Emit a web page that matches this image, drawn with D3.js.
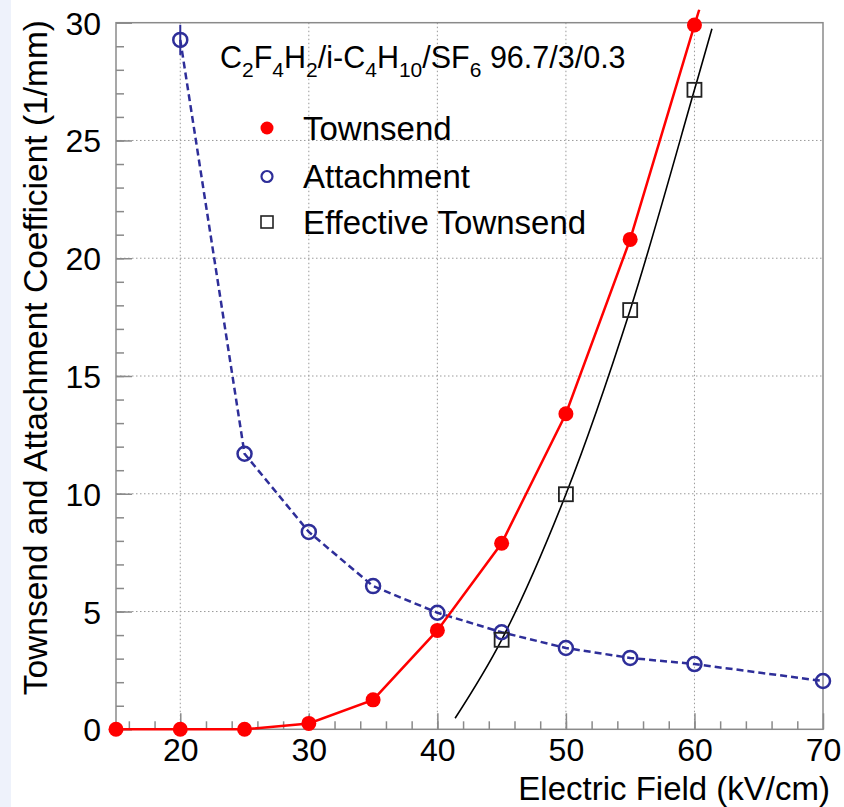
<!DOCTYPE html>
<html>
<head>
<meta charset="utf-8">
<script src="https://cdn.jsdelivr.net/npm/d3@7"></script>
<style>
  html, body { margin: 0; padding: 0; background: #ffffff; }
  svg { display: block; }
  text { font-family: "Liberation Sans", Arial, Helvetica, sans-serif; fill: #000; }
</style>
</head>
<body>
<svg id="chart" width="844" height="807"></svg>
<script>
// ---------------- data ----------------
const fieldTownsend = [15, 20, 25, 30, 35, 40, 45, 50, 55, 60];
const townsend      = [0, 0, 0, 0.25, 1.25, 4.2, 7.9, 13.4, 20.8, 29.9];
const townsendLineEnd = [60.37, 30.55];          // line continues slightly past the last point

const fieldAttach   = [20, 25, 30, 35, 40, 45, 50, 55, 60, 70];
const attachment    = [29.27, 11.7, 8.38, 6.08, 4.95, 4.12, 3.45, 3.03, 2.77, 2.05];
const attachErr     = [0.64, 0, 0, 0, 0, 0, 0, 0, 0, 0];

const fieldEff      = [45, 50, 55, 60];
const effective     = [3.8, 9.98, 17.8, 27.15];
const effFitX       = [41.38, 45, 50, 55, 60, 61.36];
const effFitY       = [0.47, 3.8, 9.98, 17.8, 27.15, 29.74];

const xTicks = [20, 30, 40, 50, 60, 70];
const yTicks = [0, 5, 10, 15, 20, 25, 30];
const xGrid  = [20, 30, 40, 50, 60];
const yGrid  = [5, 10, 15, 20, 25];
const xMinor = d3.range(16, 70, 2);
const yMinor = d3.range(1, 30, 1);

const legendLabels = ["Townsend", "Attachment", "Effective Townsend"];
const xTitle = "Electric Field (kV/cm)";
const yTitle = "Townsend and Attachment Coefficient (1/mm)";

// ---------------- layout ----------------
const svg = d3.select("#chart");
const L = 116, R = 823, T = 22.7, B = 729.3;
const x = d3.scaleLinear().domain([15, 70]).range([L, R]);
const y = d3.scaleLinear().domain([0, 30]).range([B, T]);

const RED = "#ff0000", BLUE = "#2e2e99", BLACK = "#000000", AXIS = "#8a8a8a";

// left light strip
svg.append("rect").attr("x", 0).attr("y", 0).attr("width", 11).attr("height", 807).attr("fill", "#eef2fb");

// grid
const grid = svg.append("g").attr("stroke", "#9a9a9a").attr("stroke-width", 1).attr("stroke-dasharray", "1.5,2.5");
grid.selectAll(".gx").data(xGrid).join("line")
  .attr("x1", d => x(d)).attr("x2", d => x(d)).attr("y1", T).attr("y2", B);
grid.selectAll(".gy").data(yGrid).join("line")
  .attr("x1", L).attr("x2", R).attr("y1", d => y(d)).attr("y2", d => y(d));

// frame
svg.append("rect").attr("x", L).attr("y", T).attr("width", R - L).attr("height", B - T)
  .attr("fill", "none").attr("stroke", AXIS).attr("stroke-width", 1.5);

// axes with inward ticks
const yAxisG = svg.append("g").attr("transform", `translate(${L},0)`);
yAxisG.call(d3.axisLeft(y).tickValues(yMinor).tickSize(-8).tickFormat(""));
yAxisG.call(g => g.select(".domain").remove());
const yMajG = svg.append("g").attr("transform", `translate(${L},0)`);
yMajG.call(d3.axisLeft(y).tickValues(yTicks).tickSize(-16).tickFormat(d3.format("d")));
yMajG.select(".domain").remove();
yMajG.selectAll("text").attr("font-size", 32).attr("x", -15).attr("dy", "0.36em")
  .style("font-family", "'Liberation Sans', Arial, sans-serif");

const xAxisG = svg.append("g").attr("transform", `translate(0,${B})`);
xAxisG.call(d3.axisBottom(x).tickValues(xMinor).tickSize(-8).tickFormat(""));
xAxisG.select(".domain").remove();
const xMajG = svg.append("g").attr("transform", `translate(0,${B})`);
xMajG.call(d3.axisBottom(x).tickValues(xTicks).tickSize(-16).tickFormat(d3.format("d")));
xMajG.select(".domain").remove();
xMajG.selectAll("text").attr("font-size", 32).attr("y", 9).attr("dy", "0.71em")
  .style("font-family", "'Liberation Sans', Arial, sans-serif");
svg.selectAll(".tick line").attr("stroke", AXIS).attr("stroke-width", 1.5);

// axis titles
svg.append("text").attr("x", 830).attr("y", 800).attr("text-anchor", "end")
  .attr("font-size", 33).text(xTitle);
svg.append("text").attr("transform", "translate(47,20) rotate(-90)").attr("text-anchor", "end")
  .attr("font-size", 33.5).text(yTitle);

// ---------------- series ----------------
const lineGen = d3.line().x(d => x(d[0])).y(d => y(d[1]));

// Attachment (dashed blue)
const attachPts = fieldAttach.map((f, i) => [f, attachment[i]]);
svg.append("path").datum(attachPts).attr("d", lineGen)
  .attr("fill", "none").attr("stroke", BLUE).attr("stroke-width", 2.5).attr("stroke-dasharray", "7,4");
svg.append("g").selectAll("line")
  .data(fieldAttach.map((f, i) => [f, attachment[i], attachErr[i]]).filter(d => d[2] > 0))
  .join("line")
  .attr("x1", d => x(d[0])).attr("x2", d => x(d[0]))
  .attr("y1", d => y(d[1] - d[2])).attr("y2", d => y(d[1] + d[2]))
  .attr("stroke", BLUE).attr("stroke-width", 2);

// Effective Townsend fit (black)
const effCurve = effFitX.map((f, i) => [f, effFitY[i]]);
svg.append("path").datum(effCurve)
  .attr("d", d3.line().x(d => x(d[0])).y(d => y(d[1])).curve(d3.curveCatmullRom.alpha(0.5)))
  .attr("fill", "none").attr("stroke", BLACK).attr("stroke-width", 1.6);

// Townsend (red)
const townPts = fieldTownsend.map((f, i) => [f, townsend[i]]);
const townLine = [[14.5, 0]].concat(townPts, [townsendLineEnd]);
svg.append("path").datum(townLine).attr("d", lineGen)
  .attr("fill", "none").attr("stroke", RED).attr("stroke-width", 2.5);

// markers
svg.append("g").selectAll("circle").data(attachPts).join("circle")
  .attr("cx", d => x(d[0])).attr("cy", d => y(d[1])).attr("r", 7)
  .attr("fill", "none").attr("stroke", BLUE).attr("stroke-width", 2.5);
svg.append("g").selectAll("rect").data(fieldEff.map((f, i) => [f, effective[i]])).join("rect")
  .attr("x", d => x(d[0]) - 7).attr("y", d => y(d[1]) - 7).attr("width", 14).attr("height", 14)
  .attr("fill", "none").attr("stroke", "#222").attr("stroke-width", 1.8);
svg.append("g").selectAll("circle").data(townPts).join("circle")
  .attr("cx", d => x(d[0])).attr("cy", d => y(d[1])).attr("r", 7.5)
  .attr("fill", RED);

// ---------------- title ----------------
const title = svg.append("text").attr("x", 220).attr("y", 68).attr("font-size", 30.5);
const parts = [
  ["C", 0], ["2", 1], ["F", 0], ["4", 1], ["H", 0], ["2", 1], ["/i-C", 0], ["4", 1], ["H", 0], ["10", 1],
  ["/SF", 0], ["6", 1], [" 96.7/3/0.3", 0]
];
let sub = false;
parts.forEach(([t, s]) => {
  const ts = title.append("tspan").text(t);
  if (s && !sub) { ts.attr("dy", 9).attr("font-size", 21); sub = true; }
  else if (!s && sub) { ts.attr("dy", -9); sub = false; }
});

// ---------------- legend ----------------
const legY = [128, 176.5, 222];
const leg = svg.append("g");
leg.append("circle").attr("cx", 267).attr("cy", legY[0]).attr("r", 6.5).attr("fill", RED);
leg.append("circle").attr("cx", 267).attr("cy", legY[1]).attr("r", 5.5).attr("fill", "none").attr("stroke", BLUE).attr("stroke-width", 2.2);
leg.append("rect").attr("x", 261).attr("y", legY[2] - 6).attr("width", 12).attr("height", 12).attr("fill", "none").attr("stroke", "#222").attr("stroke-width", 1.6);
leg.selectAll("text").data(legendLabels).join("text")
  .attr("x", 303).attr("y", (d, i) => legY[i]).attr("dy", "0.36em").attr("font-size", 33).text(d => d);
</script>
</body>
</html>
